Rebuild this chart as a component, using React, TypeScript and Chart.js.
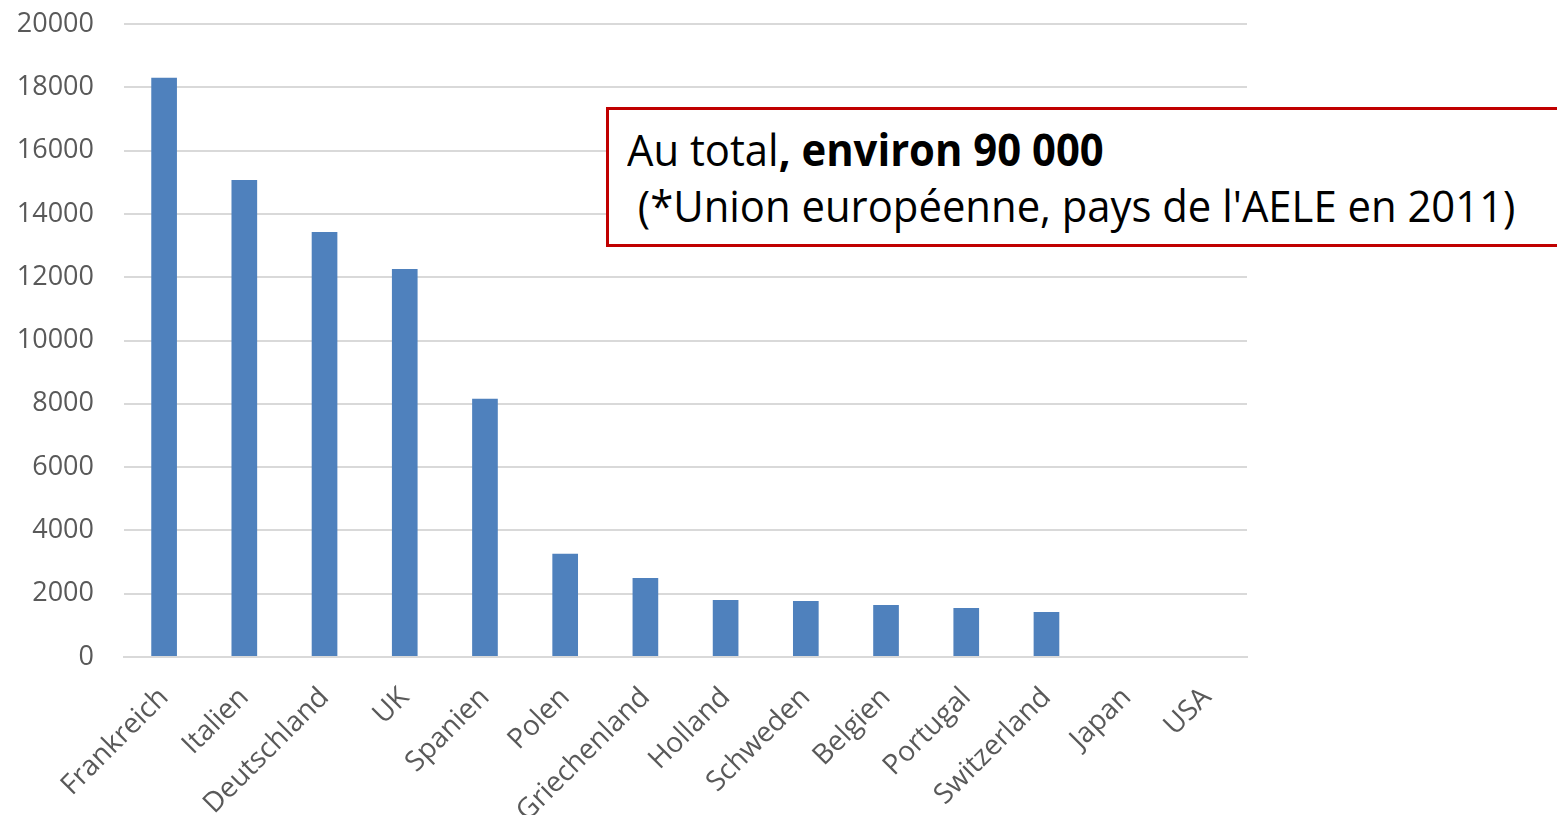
import React, { useEffect, useRef } from "react";
import { Chart, registerables } from "chart.js";

Chart.register(...registerables);

const categories = [
  "Frankreich", "Italien", "Deutschland", "UK", "Spanien", "Polen", "Griechenland",
  "Holland", "Schweden", "Belgien", "Portugal", "Switzerland", "Japan", "USA",
];
const values = [18300, 15070, 13430, 12260, 8160, 3260, 2500, 1800, 1770, 1640, 1550, 1420, 0, 0];
const yTicks = [0, 2000, 4000, 6000, 8000, 10000, 12000, 14000, 16000, 18000, 20000];
const noteLine1Normal = "Au total";
const noteLine1Bold = ", environ 90 000";
const noteLine2 = " (*Union européenne, pays de l'AELE en 2011)";

export default function App() {
  const ref = useRef<HTMLCanvasElement | null>(null);

  useEffect(() => {
    document.body.style.margin = "0";
    const ctx = ref.current!;
    const chart = new Chart(ctx, {
      type: "bar",
      data: {
        labels: categories,
        datasets: [
          {
            data: values,
            backgroundColor: "#4f81bd",
            borderWidth: 0,
            barPercentage: 0.32,
            categoryPercentage: 1,
          },
        ],
      },
      options: {
        animation: false,
        responsive: false,
        maintainAspectRatio: false,
        layout: { padding: { top: 24, right: 310, left: 0, bottom: 0 } },
        plugins: { legend: { display: false }, tooltip: { enabled: false } },
        scales: {
          x: {
            grid: { display: false, drawTicks: false },
            border: { display: true, color: "#d9d9d9", width: 2 },
            ticks: {
              color: "#595959",
              font: { family: "'Open Sans', 'Noto Sans', sans-serif", size: 28 },
              minRotation: 45,
              maxRotation: 45,
              autoSkip: false,
              padding: 24,
            },
            afterFit: (scale: any) => {
              scale.height = 158;
              scale.paddingLeft = 0;
              scale.paddingRight = 0;
            },
          },
          y: {
            min: 0,
            max: 20000,
            afterBuildTicks: (scale: any) => {
              scale.ticks = yTicks.map((v) => ({ value: v }));
            },
            grid: { color: "#d9d9d9", lineWidth: 2, drawTicks: false },
            border: { display: false },
            ticks: {
              color: "#595959",
              font: { family: "'Open Sans', 'Noto Sans', sans-serif", size: 27 },
              padding: 30,
              callback: (v: any) => String(v),
            },
            afterFit: (scale: any) => {
              scale.width = 124;
              scale.paddingTop = 0;
              scale.paddingBottom = 0;
            },
          },
        },
      },
    });
    return () => chart.destroy();
  }, []);

  return (
    <div style={{ position: "fixed", left: 0, top: 0, width: 1557, height: 815, background: "#fff", overflow: "hidden" }}>
      <canvas ref={ref} width={1557} height={815} style={{ display: "block" }} />
      <div
        style={{
          position: "absolute",
          left: 606,
          top: 107,
          width: 1000,
          height: 134,
          border: "3px solid #c00000",
          background: "#fff",
          boxSizing: "content-box",
        }}
      >
        <div
          style={{
            position: "absolute",
            left: 18,
            top: 11,
            fontFamily: "'Open Sans', sans-serif",
            fontSize: 44,
            color: "#000",
            lineHeight: "56px",
            whiteSpace: "pre",
            transform: "scaleX(0.95)",
            transformOrigin: "left top",
          }}
        >
          <div>
            {noteLine1Normal}
            <b>{noteLine1Bold}</b>
          </div>
          <div>{noteLine2}</div>
        </div>
      </div>
    </div>
  );
}
